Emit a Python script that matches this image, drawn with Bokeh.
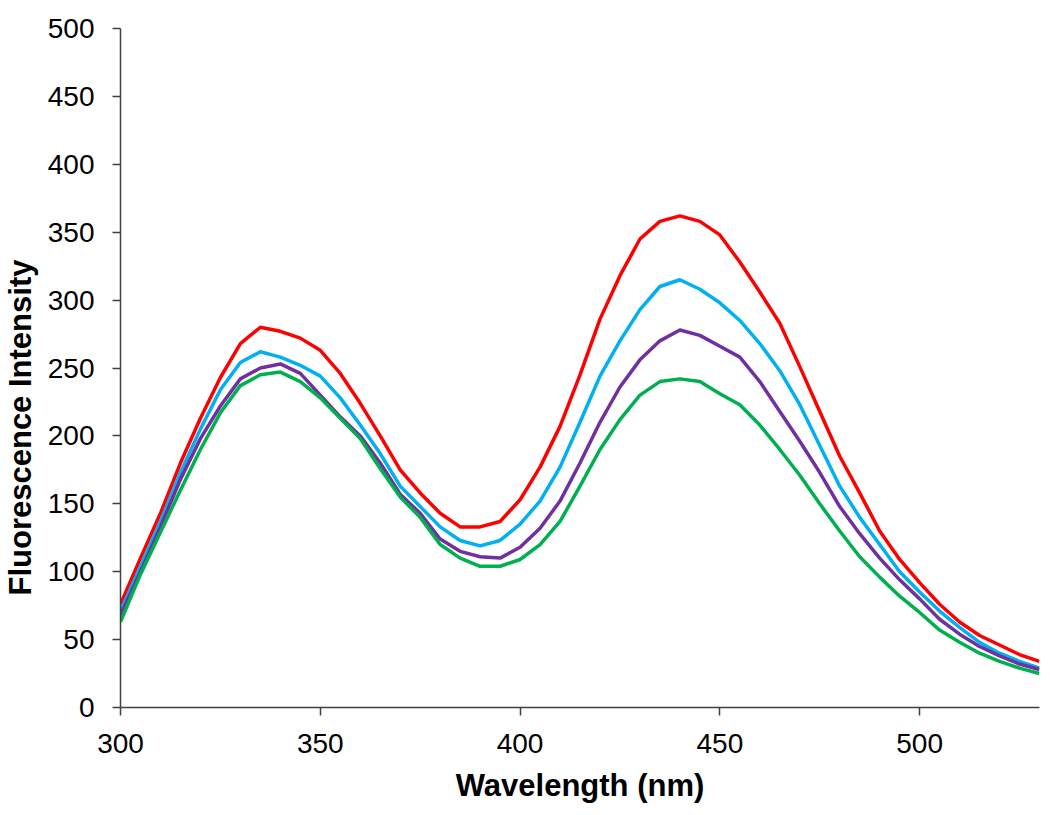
from bokeh.plotting import figure
from bokeh.models import Range1d, FixedTicker, Title
from bokeh.embed import file_html
from bokeh.resources import INLINE

wavelength = list(range(300, 531, 5))

red = [76, 110, 143, 180, 213, 243, 268, 280, 277, 272, 263, 246, 224, 200, 175, 158,
       143, 133, 133, 137, 153, 177, 207, 245, 286, 318, 345, 358, 362, 358, 348, 328,
       306, 283, 251, 218, 185, 158, 130, 109, 92, 76, 63, 53, 46, 39, 34]
cyan = [71, 104, 137, 173, 205, 234, 254, 262, 258, 252, 244, 228, 208, 187, 163, 148,
        133, 123, 119, 123, 135, 152, 177, 210, 244, 270, 293, 310, 315, 308, 298, 285,
        268, 248, 223, 193, 163, 140, 120, 100, 85, 71, 59, 48, 40, 34, 29]
purple = [68, 100, 133, 168, 198, 222, 242, 250, 253, 246, 230, 214, 200, 180, 157, 143,
          124, 115, 111, 110, 118, 132, 152, 180, 210, 236, 256, 270, 278, 274, 266, 258,
          240, 218, 196, 173, 148, 128, 110, 94, 80, 65, 54, 45, 38, 32, 28]
green = [63, 98, 129, 160, 190, 217, 237, 245, 247, 240, 228, 213, 198, 176, 155, 140,
         120, 110, 104, 104, 109, 120, 137, 163, 190, 212, 230, 240, 242, 240, 231, 223,
         208, 190, 171, 150, 130, 111, 96, 82, 70, 57, 48, 40, 34, 29, 25]

x_ticks = [300, 350, 400, 450, 500]
y_ticks = [0, 50, 100, 150, 200, 250, 300, 350, 400, 450, 500]

series = [(red, "#FF0000"), (cyan, "#00B0F0"), (purple, "#7030A0"), (green, "#00B050")]

FONT = "Liberation Sans"

p = figure(width=1042, height=808, output_backend="svg", toolbar_location=None,
           x_range=Range1d(300, 530), y_range=Range1d(0, 500),
           min_border_left=120, min_border_right=3, min_border_top=28, min_border_bottom=101)
p.outline_line_color = None
p.xgrid.visible = False
p.ygrid.visible = False
p.background_fill_color = "white"

for vals, col in series:
    p.line(wavelength, vals, line_color=col, line_width=3.5, line_join="round")

for ax in (p.xaxis[0], p.yaxis[0]):
    ax.axis_line_color = "#404040"
    ax.axis_line_width = 1.5
    ax.major_tick_line_color = "#404040"
    ax.major_tick_line_width = 1.5
    ax.major_tick_out = 8
    ax.major_tick_in = 0
    ax.minor_tick_line_color = None
    ax.major_label_text_font = FONT
    ax.major_label_text_font_size = "28px"
    ax.major_label_text_color = "black"

p.xaxis.ticker = FixedTicker(ticks=x_ticks)
p.yaxis.ticker = FixedTicker(ticks=y_ticks)
p.xaxis.major_label_standoff = 18
p.yaxis.major_label_standoff = 18

# invisible spacer label to push the y title further left
p.yaxis.axis_label = " "
p.yaxis.axis_label_text_font_size = "1px"
p.yaxis.axis_label_standoff = 3

p.xaxis.axis_label = "Wavelength (nm)"
p.xaxis.axis_label_text_font = FONT
p.xaxis.axis_label_text_font_size = "31px"
p.xaxis.axis_label_text_font_style = "bold"
p.xaxis.axis_label_text_color = "black"
p.xaxis.axis_label_standoff = 12

ytitle = Title(text="Fluorescence Intensity", align="left", offset=112,
               text_font=FONT, text_font_size="31px", text_font_style="bold",
               text_color="black", standoff=0)
p.add_layout(ytitle, "left")

open("out.html", "w").write(file_html(p, INLINE))
